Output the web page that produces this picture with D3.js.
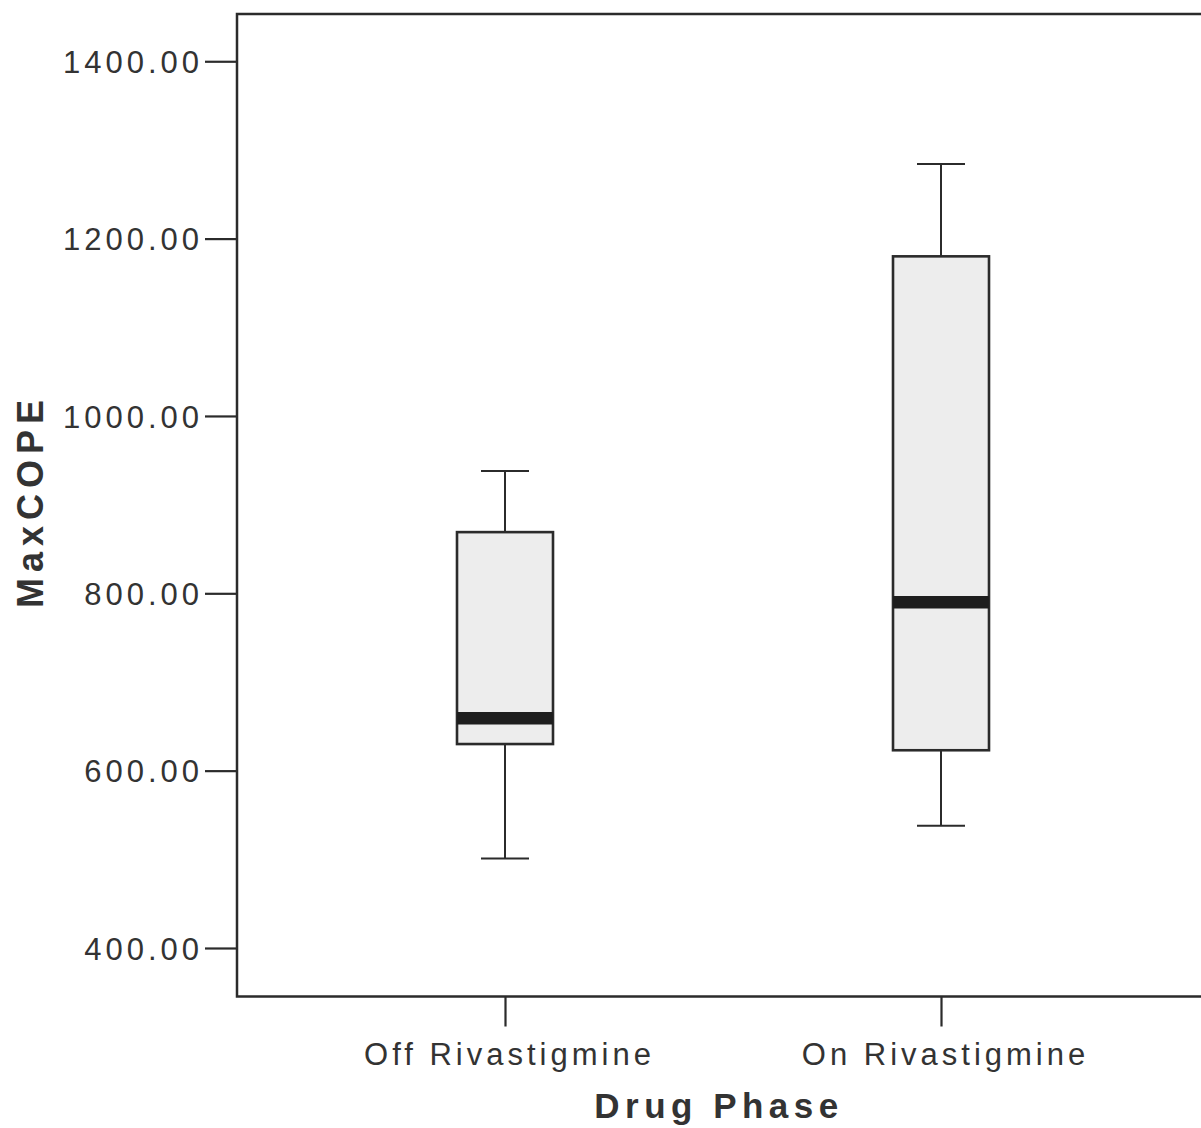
<!DOCTYPE html>
<html>
<head>
<meta charset="utf-8">
<script src="https://cdn.jsdelivr.net/npm/d3@7"></script>
<style>
  html, body { margin: 0; padding: 0; background: #ffffff; }
  svg { display: block; font-family: Arial, "Liberation Sans", sans-serif; }
</style>
</head>
<body>
<svg id="chart" width="1201" height="1128"></svg>
<script>
// ---- data ----
const categories = ["Off Rivastigmine", "On Rivastigmine"];
const whiskerLow  = [501, 538];
const q1          = [630, 623];
const medians     = [659, 790];
const q3          = [869, 1180];
const whiskerHigh = [938, 1284];
const yTicks = [400, 600, 800, 1000, 1200, 1400];
const yTickLabels = ["400.00", "600.00", "800.00", "1000.00", "1200.00", "1400.00"];
const xTitle = "Drug Phase";
const yTitle = "MaxCOPE";

// ---- layout ----
const W = 1201, H = 1128;
const mLeft = 237, mTop = 14, mRight = 1209, mBottom = 996.5;
const ink = "#2b2b2b";

const svg = d3.select("#chart");

const y = d3.scaleLinear().domain([345.3, 1453.3]).range([mBottom, mTop]);
const x = d3.scalePoint().domain(categories).range([mLeft, mRight]).padding(268 / 436);

const boxes = categories.map((c, i) => ({
  cat: c, lo: whiskerLow[i], q1: q1[i], med: medians[i], q3: q3[i], hi: whiskerHigh[i]
}));

const boxW = 96, capW = 48;

// boxes
const g = svg.append("g");
boxes.forEach(b => {
  const cx = x(b.cat);
  g.append("line").attr("x1", cx).attr("x2", cx).attr("y1", y(b.hi)).attr("y2", y(b.q3))
    .attr("stroke", ink).attr("stroke-width", 2);
  g.append("line").attr("x1", cx).attr("x2", cx).attr("y1", y(b.q1)).attr("y2", y(b.lo))
    .attr("stroke", ink).attr("stroke-width", 2);
  g.append("line").attr("x1", cx - capW / 2).attr("x2", cx + capW / 2).attr("y1", y(b.hi)).attr("y2", y(b.hi))
    .attr("stroke", ink).attr("stroke-width", 2);
  g.append("line").attr("x1", cx - capW / 2).attr("x2", cx + capW / 2).attr("y1", y(b.lo)).attr("y2", y(b.lo))
    .attr("stroke", ink).attr("stroke-width", 2);
  g.append("rect").attr("x", cx - boxW / 2).attr("y", y(b.q3))
    .attr("width", boxW).attr("height", y(b.q1) - y(b.q3))
    .attr("fill", "#ededed").attr("stroke", ink).attr("stroke-width", 2.6);
  g.append("line").attr("x1", cx - boxW / 2).attr("x2", cx + boxW / 2)
    .attr("y1", y(b.med)).attr("y2", y(b.med))
    .attr("stroke", "#1e1e1e").attr("stroke-width", 12.5);
});

// frame
svg.append("path")
  .attr("d", `M${W + 5},${mTop} H${mLeft} V${mBottom} H${W + 5}`)
  .attr("fill", "none").attr("stroke", ink).attr("stroke-width", 2.5);

// y axis
const yAxis = d3.axisLeft(y).tickValues(yTicks)
  .tickFormat((d, i) => yTickLabels[i]).tickSize(32).tickPadding(6);
const ya = svg.append("g").attr("transform", `translate(${mLeft},0)`).call(yAxis);
ya.select(".domain").remove();
ya.selectAll(".tick line").attr("stroke", ink).attr("stroke-width", 2.2);
ya.selectAll(".tick text")
  .attr("fill", "#333").attr("font-size", 31).attr("letter-spacing", "4px")
  .attr("dx", 4).attr("dy", "0.36em")
  .style("font-family", "Arial, 'Liberation Sans', sans-serif");

// x axis
const xAxis = d3.axisBottom(x).tickSize(30).tickPadding(0);
const xa = svg.append("g").attr("transform", `translate(0,${mBottom})`).call(xAxis);
xa.select(".domain").remove();
xa.selectAll(".tick line").attr("stroke", ink).attr("stroke-width", 2.2);
xa.selectAll(".tick text")
  .attr("fill", "#333").attr("font-size", 31).attr("letter-spacing", "4px")
  .attr("y", 1065 - mBottom).attr("dy", 0).attr("dx", 4)
  .style("font-family", "Arial, 'Liberation Sans', sans-serif");

// titles
svg.append("text").attr("x", 719).attr("y", 1118).attr("text-anchor", "middle")
  .attr("font-size", 35).attr("font-weight", "bold").attr("letter-spacing", "5.5px")
  .attr("fill", "#333").text(xTitle);

svg.append("text").attr("transform", "translate(43,501) rotate(-90)")
  .attr("text-anchor", "middle").attr("font-size", 36).attr("font-weight", "bold")
  .attr("letter-spacing", "6px").attr("fill", "#333").text(yTitle);
</script>
</body>
</html>
